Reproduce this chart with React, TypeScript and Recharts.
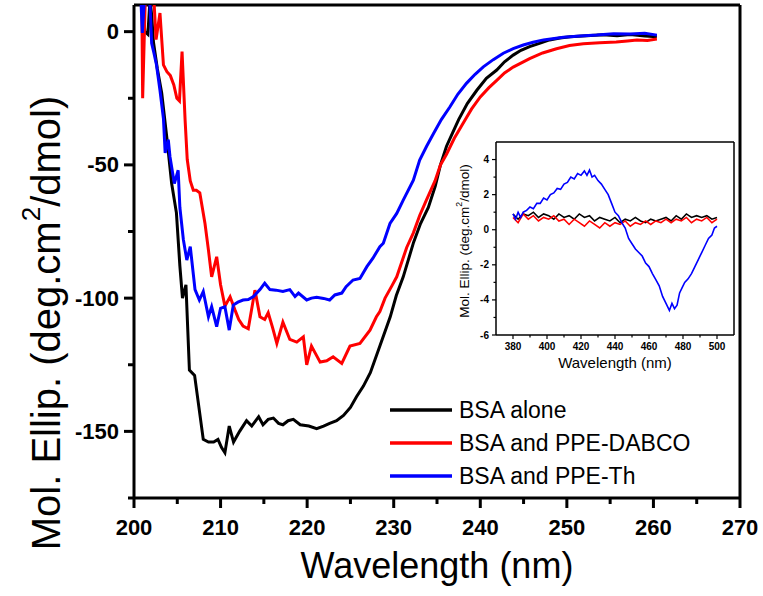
import React from 'react';
import { LineChart, Line, XAxis, YAxis, ReferenceLine, Legend, Label } from 'recharts';

const FONT = '"Liberation Sans", Arial, Helvetica, sans-serif';

// ---------- Main chart data (wavelength nm, ellipticity) ----------
const bsaAloneWl = [201.0, 201.25, 201.6, 201.85, 202.05, 202.25, 202.7, 203.2, 203.8, 204.35, 204.9, 205.3, 205.6, 206.0, 206.4, 207.0, 207.5, 208.0, 208.6, 209.2, 209.7, 210.1, 210.5, 211.0, 211.5, 212.2, 213.0, 213.6, 214.4, 214.9, 215.5, 216.1, 216.7, 217.2, 217.8, 218.4, 219.2, 220.2, 221.1, 221.9, 222.6, 223.4, 224.2, 225.0, 225.7, 226.5, 227.3, 228.4, 229.6, 230.3, 231.1, 232.3, 233.1, 234.0, 234.8, 235.4, 236.1, 236.8, 237.5, 238.5, 239.6, 240.7, 241.9, 242.8, 243.8, 244.7, 245.7, 247.0, 248.0, 249.2, 250.4, 252.3, 254.2, 255.8, 257.3, 259.0, 260.4];
const bsaAloneVal = [12, 0, -1, 12, 6, -4, -14, -23, -40, -57, -68, -88, -100, -95, -127, -129, -141, -153, -154, -154, -153, -156, -158, -148, -154, -150, -146, -148, -144.5, -147.5, -145.5, -145, -147, -147.5, -146, -145.5, -147.5, -148, -149, -148, -147, -146, -144, -141, -137, -133, -128, -118, -107, -99, -92, -79, -72, -66, -58, -50, -43, -38, -33, -27, -22, -17.5, -14.4, -11.3, -8.8, -7, -5.6, -4.2, -3.1, -2.4, -1.9, -1.5, -1.2, -1.5, -1.1, -1.6, -1.9];

const dabcoWl = [200.9, 201.0, 201.3, 202.3, 202.55, 203.0, 203.4, 203.8, 204.2, 204.6, 204.95, 205.25, 205.55, 205.9, 206.15, 206.5, 206.85, 207.2, 207.6, 208.2, 208.6, 208.97, 209.55, 210.0, 210.5, 211.1, 211.67, 212.1, 212.6, 213.2, 213.97, 214.55, 215.1, 215.5, 216.0, 216.5, 217.2, 218.0, 218.8, 219.56, 219.95, 220.5, 221.0, 221.5, 222.26, 223.0, 224.0, 224.95, 226.1, 227.26, 228.0, 228.4, 229.0, 229.77, 230.35, 231.5, 232.27, 233.0, 233.8, 234.77, 235.4, 236.1, 237.0, 238.0, 239.0, 240.0, 241.0, 241.9, 242.8, 243.8, 245.7, 247.2, 248.8, 250.3, 251.9, 253.8, 255.7, 257.0, 258.1, 259.3, 260.4];
const dabcoVal = [12, -25, 12, 12, -3, 7, -12.5, -15, -16.5, -20, -25, -26, -7.5, -33, -48, -56, -59.5, -59.5, -60.5, -72, -82, -92, -84.5, -95, -103, -99.5, -104.5, -108, -110.5, -111.5, -97, -107, -108, -105.5, -111, -117, -109, -115.5, -116.5, -114.5, -125, -118, -121, -124, -123.5, -122, -124.5, -118, -117, -112, -107, -105, -100, -95.5, -92, -81, -75.5, -69, -63, -56, -50, -46, -40, -34.5, -29, -24.5, -21, -18.3, -15.5, -13.3, -10.1, -8, -6.4, -5.2, -4.5, -4.2, -3.9, -3.5, -3.1, -3.3, -2.8];

const thWl = [200.8, 200.96, 201.2, 201.85, 202.04, 202.3, 202.6, 203.0, 203.4, 203.6, 203.96, 204.16, 204.66, 205.1, 205.3, 205.7, 206.1, 206.5, 207.05, 207.55, 208.0, 208.6, 208.97, 209.55, 210.0, 210.5, 211.0, 211.47, 212.0, 212.6, 213.2, 213.8, 214.55, 215.1, 215.7, 216.4, 217.2, 218.0, 218.6, 219.0, 219.95, 220.5, 221.1, 221.9, 222.6, 223.2, 224.0, 224.5, 225.3, 226.1, 226.9, 227.6, 228.4, 228.8, 229.57, 230.35, 231.1, 232.27, 233.0, 233.8, 234.6, 235.5, 236.5, 237.4, 238.4, 239.4, 240.35, 241.5, 242.66, 243.8, 244.97, 246.1, 247.3, 249.6, 251.5, 253.45, 255.4, 257.3, 259.0, 260.4];
const thVal = [12, -0.5, 12, 10, -4.4, -8, -12.5, -22, -32.6, -45.5, -40.5, -47, -57, -52, -66, -78, -85.7, -80.7, -96.8, -100.7, -97.5, -107, -103.2, -110.7, -103.8, -103.2, -112, -102.6, -101.5, -100.7, -100.5, -99.4, -96.8, -94.4, -96.8, -97, -97.5, -96.8, -99.4, -98.1, -100.7, -100, -99.7, -100.1, -100.7, -98.8, -98.1, -95.7, -93.2, -92.6, -88.2, -85, -80.7, -79.4, -72, -68.2, -63.2, -55.7, -48.2, -43, -38.2, -33, -28.2, -23.5, -19.4, -16, -13.2, -10.5, -8.1, -6.4, -5, -4, -3.1, -2.1, -1.6, -1.3, -0.8, -0.9, -0.6, -1.3];

const mainXTicks = [200, 205, 210, 215, 220, 225, 230, 235, 240, 245, 250, 255, 260, 265, 270];
const mainYTicks = [-175, -150, -125, -100, -75, -50, -25, 0];

// ---------- Inset data ----------
const insetAloneWl = [380, 383, 386, 389, 392, 395, 398, 401, 404, 407, 410, 413, 416, 419, 422, 425, 428, 431, 434, 437, 440, 443, 446, 449, 452, 455, 458, 461, 464, 467, 470, 473, 476, 479, 482, 485, 488, 491, 494, 497, 500];
const insetAloneVal = [0.9, 0.6, 0.9, 0.8, 1.0, 0.7, 0.9, 0.8, 0.6, 0.9, 0.7, 0.8, 0.6, 0.9, 0.7, 0.8, 0.5, 0.7, 0.6, 0.5, 0.7, 0.4, 0.6, 0.5, 0.7, 0.5, 0.4, 0.6, 0.5, 0.6, 0.7, 0.5, 0.8, 0.6, 0.9, 0.7, 0.8, 0.7, 0.8, 0.6, 0.7];

const insetDabcoWl = [380, 383, 386, 389, 392, 395, 398, 401, 404, 407, 410, 413, 416, 419, 422, 425, 428, 431, 434, 437, 440, 443, 446, 449, 452, 455, 458, 461, 464, 467, 470, 473, 476, 479, 482, 485, 488, 491, 494, 497, 500];
const insetDabcoVal = [0.7, 0.4, 0.9, 0.6, 0.8, 0.5, 0.7, 0.6, 0.8, 0.5, 0.6, 0.3, 0.6, 0.4, 0.2, 0.5, 0.3, 0.1, 0.4, 0.2, 0.4, 0.3, 0.5, 0.2, 0.4, 0.3, 0.5, 0.3, 0.5, 0.4, 0.6, 0.4, 0.6, 0.5, 0.7, 0.4, 0.6, 0.5, 0.7, 0.4, 0.6];

const insetThWl = [380, 381.5, 383, 384.5, 386, 388, 390, 392, 394, 396, 398, 400, 402, 404, 406, 408, 410, 412, 414, 416, 418, 420, 422, 423.5, 425, 426.5, 428, 430, 432, 434, 436, 438, 440, 442, 444, 446, 448, 450, 452, 454, 456, 458, 460, 462, 464, 466, 468, 470, 472, 473.5, 475, 476.5, 478, 479.5, 481, 483, 485, 487, 489, 491, 493, 495, 497, 498.5, 500];
const insetThVal = [0.9, 0.6, 1.0, 0.7, 1.0, 1.1, 1.3, 1.2, 1.5, 1.5, 1.8, 1.7, 2.0, 2.1, 2.35, 2.3, 2.6, 2.7, 3.0, 2.9, 3.2, 3.1, 3.35, 3.1, 3.4, 3.0, 3.1, 2.8, 2.6, 2.3, 2.0, 1.5, 1.0, 0.8, 0.4, 0.1, -0.5, -0.8, -1.1, -1.3, -1.5, -1.9, -2.1, -2.5, -2.85, -3.2, -3.8, -4.2, -4.6, -4.2, -4.5, -4.3, -3.6, -3.3, -3.0, -2.8, -2.5, -2.1, -1.7, -1.3, -0.9, -0.5, -0.3, 0.1, 0.2];

const insetXTicks = [380, 390, 400, 410, 420, 430, 440, 450, 460, 470, 480, 490, 500];
const insetYTicks = [-6, -5, -4, -3, -2, -1, 0, 1, 2, 3, 4];

const seriesNames = ['BSA alone', 'BSA and PPE-DABCO', 'BSA and PPE-Th'];
const seriesColors = ['#000000', '#ff0000', '#0000ff'];

const toPoints = (xs: number[], ys: number[]) => xs.map((x, i) => ({ x, v: ys[i] }));

// ---------- Ticks ----------
const MainXTick = (p: any) => {
  const val = Math.round(p.payload.value);
  const major = val % 10 === 0;
  return (
    <g>
      <line x1={p.x} x2={p.x} y1={p.y} y2={p.y + (major ? 10 : 6)} stroke="#000" strokeWidth={3} />
      {major && (
        <text x={p.x} y={p.y + 37} textAnchor="middle" fontSize={22} fontWeight="bold" fontFamily={FONT} fill="#000">
          {val}
        </text>
      )}
    </g>
  );
};

const MainYTick = (p: any) => {
  const val = Math.round(p.payload.value);
  const major = val % 50 === 0;
  return (
    <g>
      <line x1={p.x - (major ? 10 : 6)} x2={p.x} y1={p.y} y2={p.y} stroke="#000" strokeWidth={3} />
      {major && (
        <text x={p.x - 15} y={p.y} textAnchor="end" dominantBaseline="central" fontSize={22} fontWeight="bold" fontFamily={FONT} fill="#000">
          {val}
        </text>
      )}
    </g>
  );
};

const InsetXTick = (p: any) => {
  const val = Math.round(p.payload.value);
  const major = val % 20 === 0;
  return (
    <g>
      <line x1={p.x} x2={p.x} y1={p.y} y2={p.y + (major ? 4 : 2.5)} stroke="#000" strokeWidth={1.2} />
      {major && (
        <text x={p.x} y={p.y + 15} textAnchor="middle" fontSize={10} fontWeight="bold" fontFamily={FONT} fill="#000">
          {val}
        </text>
      )}
    </g>
  );
};

const InsetYTick = (p: any) => {
  const val = Math.round(p.payload.value);
  const major = Math.abs(val) % 2 === 0;
  return (
    <g>
      <line x1={p.x - (major ? 4 : 2.5)} x2={p.x} y1={p.y} y2={p.y} stroke="#000" strokeWidth={1.2} />
      {major && (
        <text x={p.x - 7} y={p.y} textAnchor="end" dominantBaseline="central" fontSize={10} fontWeight="bold" fontFamily={FONT} fill="#000">
          {val}
        </text>
      )}
    </g>
  );
};

// ---------- Titles ----------
const MainXTitle = (p: any) => {
  const vb = p.viewBox;
  return (
    <text x={vb.x + vb.width / 2} y={vb.y + 80} textAnchor="middle" fontSize={36} fontFamily={FONT} fill="#000">
      Wavelength (nm)
    </text>
  );
};

const YTitle = ({ cx, cy, size }: { cx: number; cy: number; size: number }) => (
  <text
    x={cx}
    y={cy}
    transform={`rotate(-90 ${cx} ${cy})`}
    textAnchor="middle"
    dominantBaseline="central"
    fontSize={size}
    fontFamily={FONT}
    fill="#000"
  >
    <tspan>Mol. Ellip. (deg.cm</tspan>
    <tspan fontSize={size * 0.65} dy={-size * 0.38}>2</tspan>
    <tspan dy={size * 0.38}>/dmol)</tspan>
  </text>
);

const MainYTitle = () => <YTitle cx={46} cy={323} size={40} />;

const InsetXTitle = (p: any) => {
  const vb = p.viewBox;
  return (
    <text x={vb.x + vb.width / 2} y={vb.y + 33} textAnchor="middle" fontSize={15} fontFamily={FONT} fill="#000">
      Wavelength (nm)
    </text>
  );
};

const InsetYTitle = () => <YTitle cx={24} cy={111} size={13.5} />;

// ---------- Legend ----------
const renderLegend = (props: any) => {
  const items = props.payload || [];
  return (
    <svg width={320} height={110} style={{ display: 'block' }}>
      {items.map((e: any, i: number) => (
        <g key={i}>
          <line x1={2} x2={64} y1={18 + i * 33} y2={18 + i * 33} stroke={e.color} strokeWidth={3.5} />
          <text x={71} y={18 + i * 33} dominantBaseline="central" fontSize={23} fontFamily={FONT} fill="#000">
            {e.value}
          </text>
        </g>
      ))}
    </svg>
  );
};

export default function App() {
  const mainSeries = [
    toPoints(bsaAloneWl, bsaAloneVal),
    toPoints(dabcoWl, dabcoVal),
    toPoints(thWl, thVal),
  ];
  const insetSeries = [
    toPoints(insetAloneWl, insetAloneVal),
    toPoints(insetDabcoWl, insetDabcoVal),
    toPoints(insetThWl, insetThVal),
  ];
  return (
    <div style={{ position: 'absolute', left: 0, top: 0, width: 763, height: 596, background: '#fff' }}>
      <LineChart width={763} height={596} margin={{ top: 5, right: 23, left: 0, bottom: 0 }}>
        <XAxis
          type="number"
          dataKey="x"
          domain={[200, 270]}
          ticks={mainXTicks}
          interval={0}
          allowDataOverflow
          height={98}
          tickSize={0}
          tickMargin={0}
          tickLine={false}
          axisLine={{ stroke: '#000', strokeWidth: 3 }}
          tick={(p: any) => <MainXTick {...p} />}
        >
          <Label content={MainXTitle} />
        </XAxis>
        <YAxis
          type="number"
          domain={[-175, 10]}
          ticks={mainYTicks}
          interval={0}
          allowDataOverflow
          width={134}
          tickSize={0}
          tickMargin={0}
          tickLine={false}
          axisLine={{ stroke: '#000', strokeWidth: 3 }}
          tick={(p: any) => <MainYTick {...p} />}
        >
          <Label content={MainYTitle} />
        </YAxis>
        <ReferenceLine y={10} stroke="#000" strokeWidth={3} />
        <ReferenceLine x={270} stroke="#000" strokeWidth={3} />
        {mainSeries.map((d, i) => (
          <Line
            key={seriesNames[i]}
            data={d}
            dataKey="v"
            name={seriesNames[i]}
            stroke={seriesColors[i]}
            strokeWidth={3}
            dot={false}
            activeDot={false}
            type="linear"
            isAnimationActive={false}
          />
        ))}
        <Legend
          layout="horizontal"
          verticalAlign="middle"
          align="center"
          content={renderLegend}
          wrapperStyle={{ left: 388, top: 392, width: 320, height: 110 }}
        />
      </LineChart>

      <div style={{ position: 'absolute', left: 440, top: 130 }}>
        <LineChart width={298} height={245} margin={{ top: 12, right: 4, left: 0, bottom: 0 }}>
          <XAxis
            type="number"
            dataKey="x"
            domain={[370, 510]}
            ticks={insetXTicks}
            interval={0}
            allowDataOverflow
            height={40}
            tickSize={0}
            tickMargin={0}
            tickLine={false}
            axisLine={{ stroke: '#000', strokeWidth: 1.5 }}
            tick={(p: any) => <InsetXTick {...p} />}
          >
            <Label content={InsetXTitle} />
          </XAxis>
          <YAxis
            type="number"
            domain={[-6, 5]}
            ticks={insetYTicks}
            interval={0}
            allowDataOverflow
            width={56}
            tickSize={0}
            tickMargin={0}
            tickLine={false}
            axisLine={{ stroke: '#000', strokeWidth: 1.5 }}
            tick={(p: any) => <InsetYTick {...p} />}
          >
            <Label content={InsetYTitle} />
          </YAxis>
          <ReferenceLine y={5} stroke="#000" strokeWidth={1.5} />
          <ReferenceLine x={510} stroke="#000" strokeWidth={1.5} />
          {insetSeries.map((d, i) => (
            <Line
              key={'inset-' + seriesNames[i]}
              data={d}
              dataKey="v"
              name={seriesNames[i]}
              stroke={seriesColors[i]}
              strokeWidth={1.6}
              dot={false}
              activeDot={false}
              type="linear"
              isAnimationActive={false}
            />
          ))}
        </LineChart>
      </div>
    </div>
  );
}
